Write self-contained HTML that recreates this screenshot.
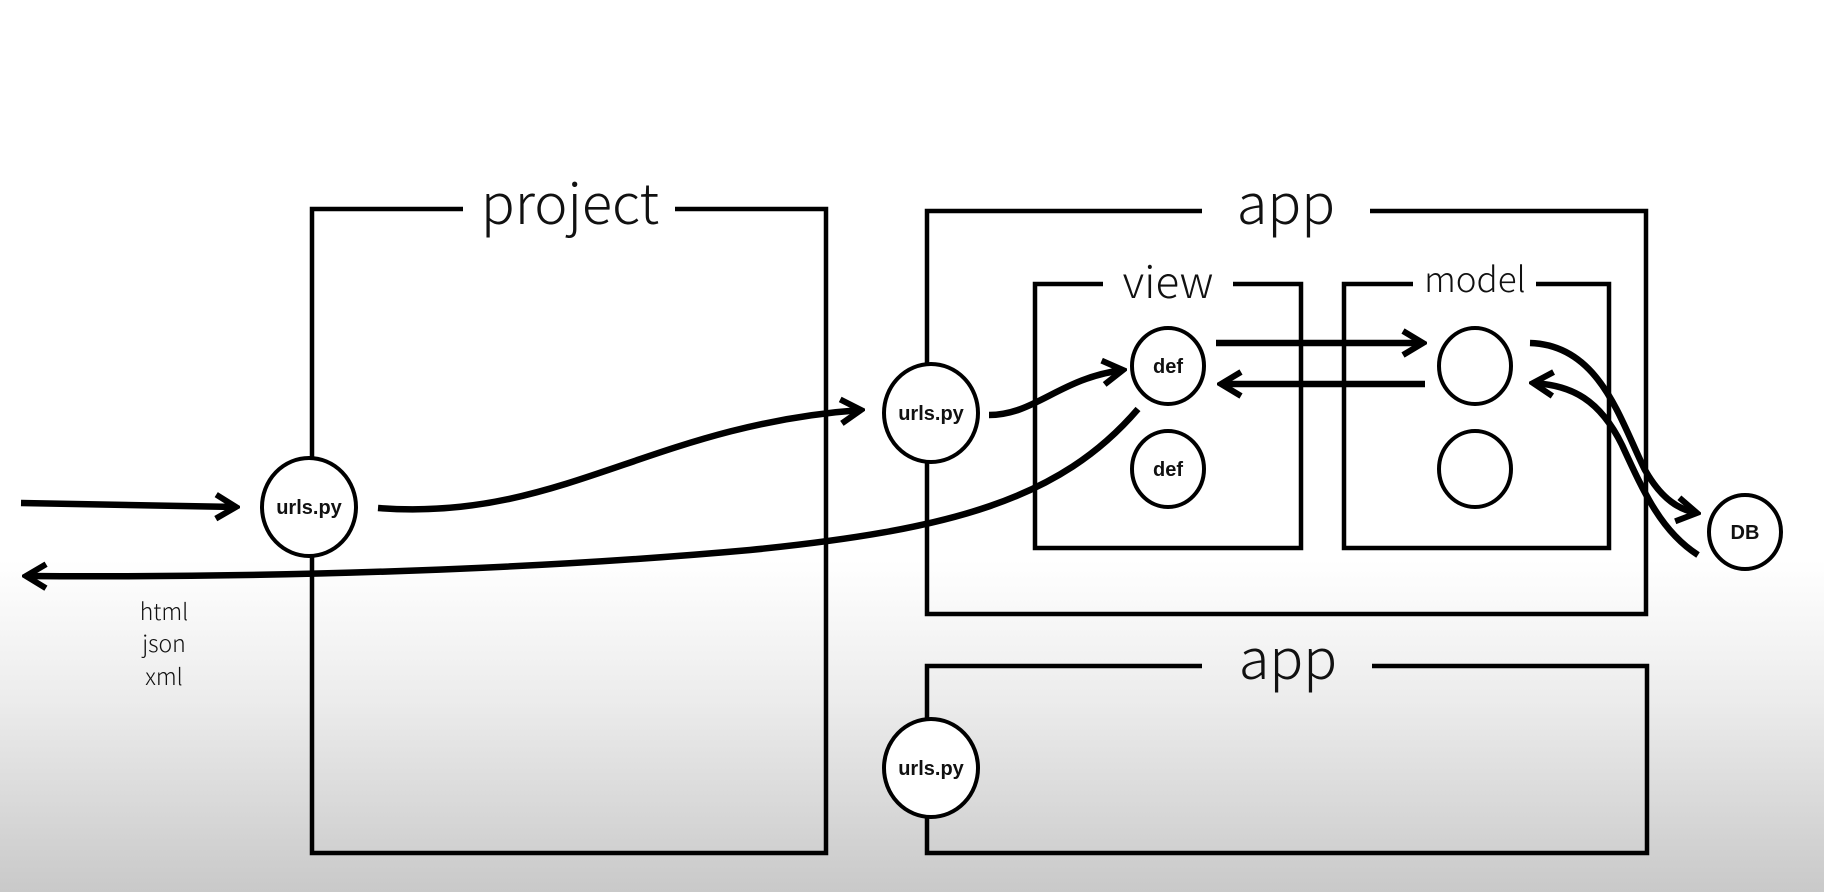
<!DOCTYPE html>
<html><head><meta charset="utf-8"><style>
html,body{margin:0;padding:0}
body{width:1824px;height:892px;overflow:hidden;background:linear-gradient(to bottom,#fff 0px,#fff 560px,#ececec 700px,#c9c9c9 892px);}
svg{position:absolute;left:0;top:0}
.lbl{font-family:"Noto Sans CJK JP","Liberation Sans",sans-serif;font-weight:300;fill:#111}
.c{font-family:"Liberation Sans",sans-serif;font-weight:bold;font-size:20px;fill:#111}
</style></head><body>
<svg width="1824" height="892" viewBox="0 0 1824 892">
<defs>
<marker id="a" viewBox="0 0 30 30" refX="26" refY="15" markerWidth="30" markerHeight="30" markerUnits="userSpaceOnUse" orient="auto">
<polyline points="6,3 26,15 6,27" fill="none" stroke="#000" stroke-width="6" stroke-linecap="butt" stroke-linejoin="miter"/>
</marker>
</defs>
<g fill="none" stroke="#000" stroke-width="4.5">
<path d="M463,209 H312 V853 H826 V209 H675"/>
<path d="M1202,211 H927 V614 H1646 V211 H1370"/>
<path d="M1103,284 H1035 V548 H1301 V284 H1233"/>
<path d="M1413,284 H1344 V548 H1609 V284 H1536"/>
<path d="M1202,666 H927 V853 H1647 V666 H1372"/>
</g>
<g fill="none" stroke="#000" stroke-width="6.5" stroke-linecap="butt">
<path d="M21,503 L236,507" marker-end="url(#a)"/>
<path d="M378,508 C560,522 650,425 861,410" marker-end="url(#a)"/>
<path d="M989,415 C1035,415 1060,378 1123,370" marker-end="url(#a)"/>
<path d="M1138,409 C1060,500 950,530 750,550 C550,568 300,578 26,576" marker-end="url(#a)"/>
<path d="M1216,343 L1423,343" marker-end="url(#a)"/>
<path d="M1425,384 L1221,384" marker-end="url(#a)"/>
<path d="M1530,343 C1600,345 1620,420 1645,470 C1662,500 1680,510 1697,513" marker-end="url(#a)"/>
<path d="M1698,555 C1662,532 1645,495 1622,445 C1600,400 1572,385 1533,383" marker-end="url(#a)"/>
</g>
<g fill="#fff" stroke="#000" stroke-width="4">
<ellipse cx="309" cy="507" rx="47" ry="49"/>
<ellipse cx="931" cy="413" rx="47" ry="49"/>
<ellipse cx="931" cy="768" rx="47" ry="49"/>
<ellipse cx="1168" cy="366" rx="36" ry="38"/>
<ellipse cx="1168" cy="469" rx="36" ry="38"/>
<ellipse cx="1475" cy="366" rx="36" ry="38"/>
<ellipse cx="1475" cy="469" rx="36" ry="38"/>
<ellipse cx="1745" cy="532" rx="36" ry="37"/>
</g>
<g class="c" text-anchor="middle">
<text x="309" y="514">urls.py</text>
<text x="931" y="420">urls.py</text>
<text x="931" y="775">urls.py</text>
<text x="1168" y="373">def</text>
<text x="1168" y="476">def</text>
<text x="1745" y="539">DB</text>
</g>
<g class="lbl" text-anchor="middle">
<text x="570" y="224" font-size="56">project</text>
<text x="1286" y="224" font-size="56">app</text>
<text x="1288" y="679" font-size="56">app</text>
<text x="1168" y="298" font-size="44">view</text>
<text x="1475" y="292" font-size="35">model</text>
<text x="164" y="620" font-size="23">html</text>
<text x="164" y="652" font-size="23">json</text>
<text x="164" y="685" font-size="23">xml</text>
</g>
</svg>
</body></html>
